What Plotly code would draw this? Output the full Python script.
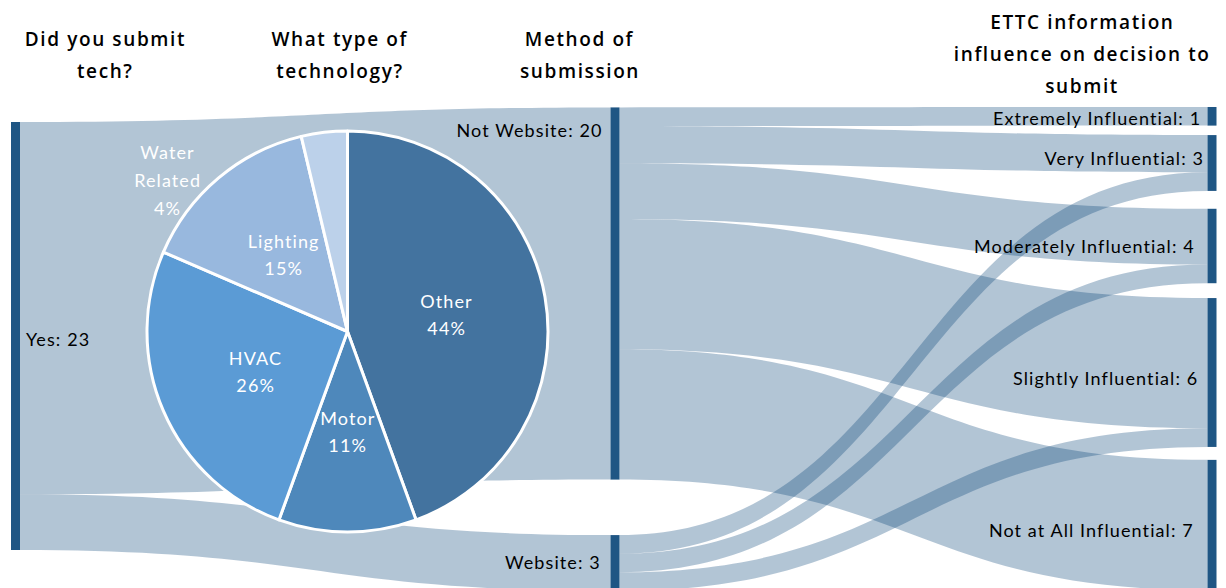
import math
import plotly.graph_objects as go

# ---------------- data ----------------
node_names = ["Yes", "Not Website", "Website",
              "Extremely Influential", "Very Influential", "Moderately Influential",
              "Slightly Influential", "Not at All Influential"]
node_counts = [23, 20, 3, 1, 3, 4, 6, 7]

link_source = [0, 0, 1, 1, 1, 1, 1, 2, 2, 2]
link_target = [1, 2, 3, 4, 5, 6, 7, 4, 5, 6]
link_value = [20, 3, 1, 2, 3, 7, 7, 1, 1, 1]

tech_labels = ["Other", "Motor", "HVAC", "Lighting", "Water Related"]
tech_counts = [12, 3, 7, 4, 1]

headers = [
    ["Did you submit", "tech?"],
    ["What type of", "technology?"],
    ["Method of", "submission"],
    ["ETTC information", "influence on decision to", "submit"],
]

# ---------------- layout helpers ----------------
W, H = 1226, 588
node_cx = [15.5, 615, 615, 1212, 1212, 1212, 1212, 1212]
node_cy = [336, 293.5, 563, 116.3, 163, 246, 372.5, 525]

NODE_COL = "#1f5684"
LINK_COL = "rgba(0,64,115,0.30)"
PIE_COLS = ["#43739f", "#4e88bb", "#5b9bd5", "#98b8de", "#bcd1ea"]
LABEL_FONT = "Lato, Open Sans, sans-serif"
HEAD_FONT = "Open Sans, Liberation Sans, sans-serif"

PIE_X = (147, 548)
PIE_Y = (131, 532)

fig = go.Figure()

fig.add_trace(go.Sankey(
    domain=dict(x=[0, 1], y=[0, 1]),
    arrangement="fixed",
    node=dict(
        label=["" for _ in node_names],
        x=[c / W for c in node_cx],
        y=[c / H for c in node_cy],
        pad=40,
        thickness=9,
        color=NODE_COL,
        line=dict(width=0),
        hoverinfo="none",
    ),
    link=dict(
        source=link_source,
        target=link_target,
        value=link_value,
        color=LINK_COL,
        hoverinfo="none",
    ),
))

fig.add_trace(go.Pie(
    labels=tech_labels,
    values=tech_counts,
    sort=False,
    direction="clockwise",
    rotation=0,
    marker=dict(colors=PIE_COLS, line=dict(color="white", width=3)),
    domain=dict(x=[PIE_X[0] / W, PIE_X[1] / W], y=[1 - PIE_Y[1] / H, 1 - PIE_Y[0] / H]),
    textinfo="none",
    hoverinfo="none",
    showlegend=False,
))

annotations = []


def add_lines(lines, cx, cy, spacing, font, anchor="center"):
    n = len(lines)
    for i, line in enumerate(lines):
        py = cy + (i - (n - 1) / 2) * spacing
        annotations.append(dict(
            x=cx / W, y=1 - py / H, xref="paper", yref="paper",
            text=line, showarrow=False, font=font,
            xanchor=anchor, align=anchor, yanchor="middle"))


# pie labels at half radius along each slice's mid-angle
pie_font = dict(family=LABEL_FONT, size=18, color="white")
pcx = (PIE_X[0] + PIE_X[1]) / 2
pcy = (PIE_Y[0] + PIE_Y[1]) / 2
R = (PIE_X[1] - PIE_X[0]) / 2
total = sum(tech_counts)
cum = 0
for lab, v in zip(tech_labels, tech_counts):
    mid = (cum + v / 2) / total * 2 * math.pi
    cum += v
    pct = "%d%%" % round(100 * v / total)
    if lab == "Water Related":
        add_lines(["Water", "Related", pct], 167, 180, 28, pie_font)
    else:
        lx = pcx + 0.5 * R * math.sin(mid)
        ly = pcy - 0.5 * R * math.cos(mid)
        add_lines([lab, pct], lx, ly, 27, pie_font)

# node labels
label_font = dict(family=LABEL_FONT, size=18, color="black")
label_pos = [
    (24, 339, "left"),
    (605, 130, "right"),
    (603, 562, "right"),
    (1203, 118, "right"),
    (1206, 158, "right"),
    (1197, 246, "right"),
    (1200, 378, "right"),
    (1196, 530, "right"),
]
for name, cnt, (px, py, anchor) in zip(node_names, node_counts, label_pos):
    add_lines(["%s: %d" % (name, cnt)], px, py, 0, label_font, anchor)

# headers
head_font = dict(family=HEAD_FONT, size=19, color="black", weight=600)
header_pos = [(105, 55), (340, 55), (580, 55), (1082, 54)]
for lines, (cx, cy) in zip(headers, header_pos):
    add_lines(lines, cx, cy, 31.5, head_font)

fig.update_layout(
    width=W, height=H,
    margin=dict(l=0, r=0, t=0, b=0),
    paper_bgcolor="white",
    plot_bgcolor="white",
    annotations=annotations,
    showlegend=False,
)

post = """
document.body.style.margin = '0';
var gd = document.getElementById('{plot_id}');
function fixStyle(){
  var pl = gd.querySelector('g.pielayer');
  if(pl){
    gd.querySelectorAll('g.sankey').forEach(function(s){
      pl.parentNode.insertBefore(s, pl);
    });
  }
  gd.querySelectorAll('text.annotation-text').forEach(function(t){
    var fs = parseFloat(t.style.fontSize || '0');
    t.style.letterSpacing = (fs > 18.5) ? '1.6px' : '1.1px';
  });
}
fixStyle();
gd.on('plotly_afterplot', fixStyle);
"""

fig.write_html("out.html", post_script=post, config={"displayModeBar": False})
